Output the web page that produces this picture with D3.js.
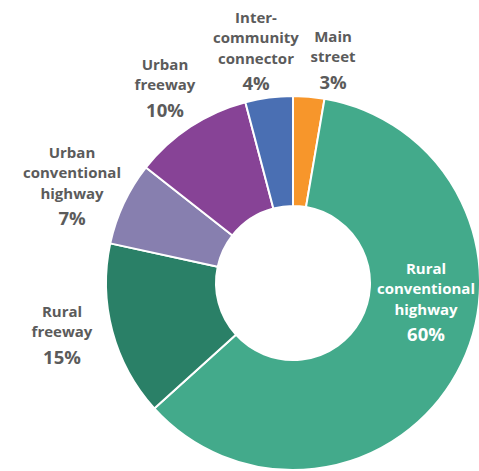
<!DOCTYPE html>
<html>
<head>
<meta charset="utf-8">
<script src="https://cdn.jsdelivr.net/npm/d3@7"></script>
<style>
  html, body { margin: 0; padding: 0; background: #fff; }
  svg { display: block; }
  text { font-family: "Open Sans", "Lato", sans-serif; font-weight: 700; }
</style>
</head>
<body>
<div id="chart"></div>
<script>
// ---- data ----
const categories = ["Main street", "Rural conventional highway", "Rural freeway",
                    "Urban conventional highway", "Urban freeway", "Inter-community connector"];
const values = [2.7, 60.6, 15.1, 7.2, 10.3, 4.1];
const percentLabels = ["3%", "60%", "15%", "7%", "10%", "4%"];
const nameLines = [["Main", "street"], ["Rural", "conventional", "highway"], ["Rural", "freeway"],
                   ["Urban", "conventional", "highway"], ["Urban", "freeway"], ["Inter-", "community", "connector"]];

// ---- style / layout ----
const colors = ["#F7962B", "#43AA8B", "#2A8067", "#877FAF", "#874396", "#4A6FB3"];
const W = 479, H = 471;
const cx = 293, cy = 283, R = 187, r0 = 77;
// label anchors: x center, baseline of first line
const labelLayout = [
  { x: 333, y: 42, color: "#5b5b5b" },
  { x: 426, y: 274, color: "#ffffff" },
  { x: 62, y: 317, color: "#5b5b5b" },
  { x: 72, y: 158, color: "#5b5b5b" },
  { x: 165, y: 70, color: "#5b5b5b" },
  { x: 256, y: 23, color: "#5b5b5b" }
];
const lineH = 20.3, pctGap = 26.5;

const svg = d3.select("#chart").append("svg")
  .attr("width", W).attr("height", H);

const pie = d3.pie().sort(null).value(d => d)(values);
const arc = d3.arc().innerRadius(r0).outerRadius(R);

const g = svg.append("g").attr("transform", `translate(${cx},${cy})`);
g.selectAll("path").data(pie).join("path")
  .attr("d", arc)
  .attr("fill", (d, i) => colors[i])
  .attr("stroke", "#fff")
  .attr("stroke-width", 2)
  .attr("stroke-linejoin", "round");

const labels = svg.selectAll("g.lab").data(categories).join("g").attr("class", "lab");
labels.each(function(c, i) {
  const L = labelLayout[i];
  const t = d3.select(this).append("text")
    .attr("text-anchor", "middle")
    .attr("fill", L.color);
  nameLines[i].forEach((ln, j) => {
    t.append("tspan").attr("x", L.x).attr("y", L.y + j * lineH)
      .attr("font-size", 15).text(ln);
  });
  t.append("tspan").attr("x", L.x)
    .attr("y", L.y + (nameLines[i].length - 1) * lineH + pctGap)
    .attr("font-size", 18.5).text(percentLabels[i]);
});
</script>
</body>
</html>
